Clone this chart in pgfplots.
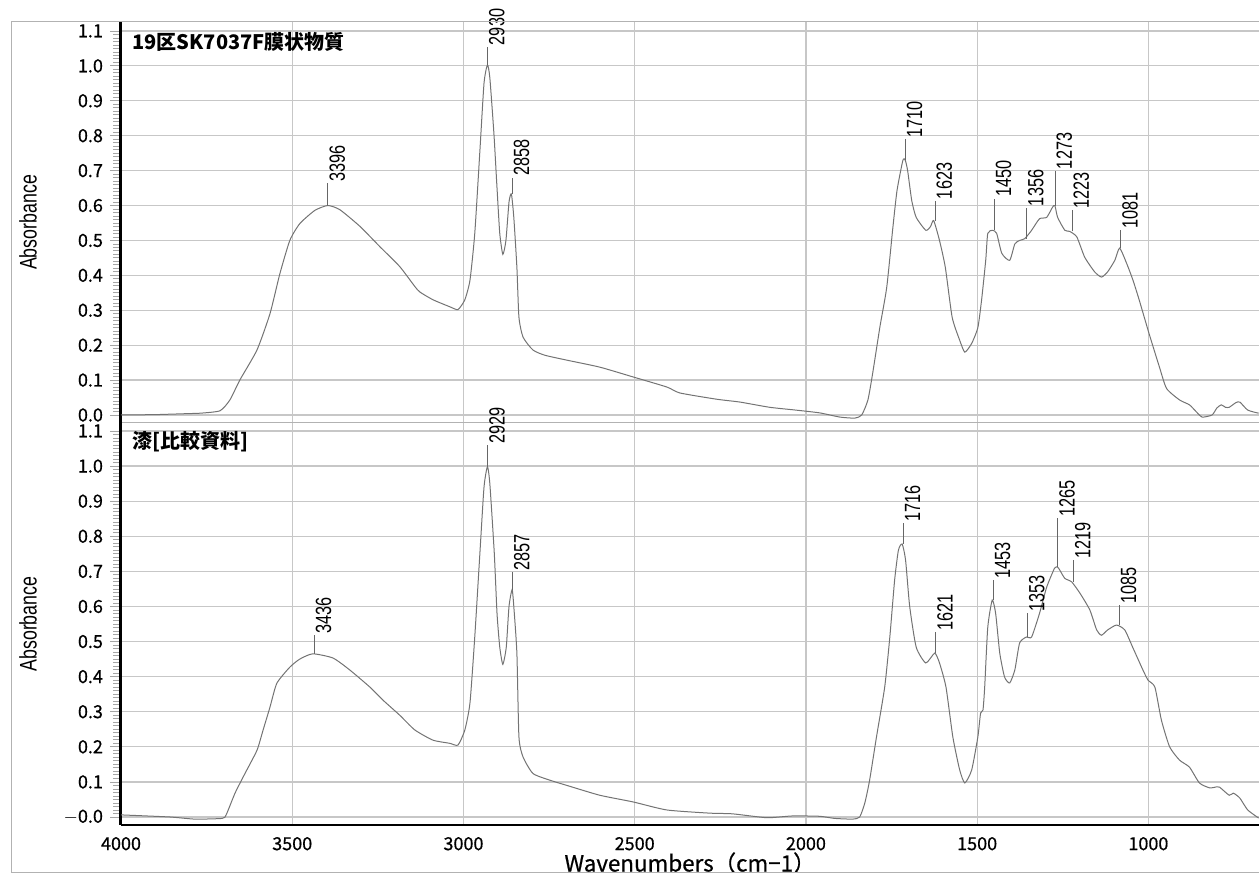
\documentclass[border=0pt]{standalone}
\usepackage{fontspec}
\usepackage{pgfplots}
\usepackage{pgfplotstable}
\pgfplotsset{compat=1.18}
\setmainfont{Liberation Sans}
\newfontfamily\jp{Noto Sans CJK JP}
\newfontfamily\jpt{Noto Sans CJK JP}[FakeBold=0.6]
\newfontfamily\narrow{Liberation Sans}[FakeStretch=0.74]

\pgfplotstableread{
w a
4000 0.000
3900 0.001
3800 0.004
3769 0.005
3711 0.012
3682 0.043
3653 0.100
3603 0.186
3565 0.290
3536 0.405
3507 0.500
3478 0.548
3434 0.586
3396 0.600
3361 0.588
3302 0.540
3244 0.482
3186 0.425
3142 0.368
3127 0.352
3089 0.330
3040 0.310
3016 0.302
2996 0.330
2981 0.386
2967 0.520
2952 0.757
2940 0.950
2930 1.003
2923 0.966
2911 0.805
2902 0.650
2894 0.520
2885 0.460
2876 0.500
2867 0.610
2860 0.633
2853 0.566
2844 0.423
2838 0.280
2826 0.223
2797 0.186
2762 0.171
2698 0.157
2602 0.137
2505 0.109
2406 0.080
2368 0.063
2260 0.045
2193 0.037
2106 0.022
2030 0.014
1960 0.006
1901 -0.006
1857 -0.009
1837 0.000
1819 0.043
1805 0.120
1784 0.252
1764 0.366
1746 0.538
1734 0.643
1717 0.729
1710 0.730
1703 0.700
1691 0.614
1678 0.566
1650 0.529
1636 0.540
1627 0.557
1610 0.500
1593 0.423
1573 0.280
1551 0.214
1536 0.180
1516 0.205
1498 0.250
1487 0.330
1475 0.443
1469 0.520
1455 0.529
1443 0.520
1428 0.463
1405 0.443
1390 0.490
1376 0.500
1361 0.505
1341 0.529
1318 0.562
1297 0.566
1280 0.595
1273 0.600
1265 0.566
1244 0.529
1230 0.526
1209 0.510
1186 0.452
1157 0.410
1137 0.395
1119 0.410
1098 0.443
1084 0.478
1063 0.433
1045 0.386
1027 0.330
998 0.233
968 0.138
947 0.076
909 0.043
880 0.029
861 0.010
843 -0.006
814 0.000
800 0.020
787 0.029
775 0.022
764 0.022
745 0.035
733 0.037
710 0.014
678 0.005
}\topdata

\pgfplotstableread{
w a
4000 0.006
3857 0.000
3784 -0.006
3705 -0.004
3693 0.006
3667 0.068
3638 0.124
3603 0.190
3585 0.248
3565 0.313
3545 0.381
3507 0.427
3478 0.450
3440 0.465
3381 0.453
3332 0.419
3273 0.370
3235 0.333
3186 0.290
3142 0.248
3089 0.219
3040 0.210
3016 0.205
2996 0.248
2981 0.325
2967 0.513
2952 0.752
2940 0.940
2930 0.998
2923 0.950
2910 0.752
2902 0.580
2894 0.484
2885 0.435
2875 0.484
2867 0.600
2858 0.648
2853 0.600
2844 0.467
2838 0.228
2826 0.171
2797 0.124
2748 0.105
2698 0.090
2602 0.062
2505 0.043
2406 0.020
2281 0.011
2214 0.009
2114 -0.002
2039 0.003
1960 0.002
1916 -0.004
1863 -0.006
1843 0.000
1828 0.040
1814 0.105
1794 0.228
1770 0.370
1755 0.513
1741 0.675
1730 0.760
1719 0.778
1709 0.732
1697 0.600
1678 0.484
1650 0.439
1624 0.467
1610 0.439
1591 0.370
1571 0.228
1551 0.134
1536 0.097
1516 0.134
1498 0.228
1490 0.296
1483 0.305
1478 0.370
1469 0.541
1456 0.618
1446 0.580
1434 0.467
1420 0.399
1405 0.382
1390 0.419
1376 0.496
1356 0.513
1341 0.513
1318 0.580
1297 0.655
1274 0.709
1265 0.712
1259 0.704
1244 0.680
1224 0.670
1200 0.638
1171 0.590
1151 0.533
1137 0.518
1119 0.533
1093 0.547
1069 0.533
1046 0.484
1016 0.419
1001 0.390
981 0.370
962 0.276
938 0.200
909 0.162
880 0.142
851 0.097
821 0.083
800 0.086
792 0.085
764 0.062
752 0.068
733 0.054
710 0.020
678 -0.003
}\botdata

\newcommand\pk[4]{\draw[black!60, line width=0.4pt] (axis cs:-#1,#2) -- (axis cs:-#1,#3) node[rotate=90, anchor=north west, inner sep=0.6pt, font=\narrow\fontsize{11}{11}\selectfont, text=black] {#4};}

\pgfplotsset{
  irbase/.style={
    scale only axis, width=569pt,
    xmin=-4000, xmax=-677, clip=false,
    axis x line*=bottom, axis y line*=left, axis line style={-},
    y axis line style={-, line width=1.5pt, black},
    xtick={-4000,-3500,-3000,-2500,-2000,-1500,-1000},
    ytick={0,0.1,0.2,0.3,0.4,0.5,0.6,0.7,0.8,0.9,1.0,1.1},
    minor y tick num=9,
    grid=major, major grid style={black!22, line width=0.6pt},
    tick align=outside, major tick length=5.5pt, minor tick length=4pt,
    ytick style={black!35, line width=0.4pt},
    xtick style={draw=none},
    ticklabel style={font=\jpt\fontsize{9}{9}\selectfont},
    ylabel=Absorbance,
    ylabel style={font=\narrow\fontsize{12}{12}\selectfont, at={(axis description cs:-0.0817,0.5)}, anchor=center},
  },
  spec/.style={black!55, line width=0.5pt, smooth, tension=0.35},
}

\begin{document}
\begin{tikzpicture}
\begin{axis}[irbase, at={(0,201pt)}, anchor=south west, height=200.5pt,
  ymin=-0.023, ymax=1.1257,
  xticklabels={},
  x axis line style={-, black!30, line width=0.5pt},
  yticklabels={0.0,0.1,0.2,0.3,0.4,0.5,0.6,0.7,0.8,0.9,1.0,1.1}]
\addplot[spec] table[x expr=-\thisrow{w}, y=a] {\topdata};
\node[anchor=west, font=\jp\bfseries\fontsize{10}{10}\selectfont] at (axis description cs:0.004,0.95) {19区SK7037F膜状物質};
\pk{3396}{0.600}{0.665}{3396}
\pk{2930}{1.003}{1.055}{2930}
\pk{2858}{0.633}{0.680}{2858}
\pk{1710}{0.730}{0.790}{1710}
\pk{1623}{0.557}{0.614}{1623}
\pk{1450}{0.529}{0.620}{1450}
\pk{1356}{0.505}{0.594}{1356}
\pk{1273}{0.600}{0.700}{1273}
\pk{1223}{0.526}{0.586}{1223}
\pk{1081}{0.478}{0.529}{1081}
\end{axis}
\begin{axis}[irbase, at={(0,0)}, anchor=south west, height=201pt,
  ymin=-0.0228, ymax=1.1228,
  xticklabels={4000,3500,3000,2500,2000,1500,1000},
  xticklabel style={yshift=3pt},
  x axis line style={-, line width=1.4pt, black},
  yticklabels={$-$0.0,0.1,0.2,0.3,0.4,0.5,0.6,0.7,0.8,0.9,1.0,1.1},
  xlabel={Wavenumbers（cm−1）},
  xlabel style={font=\jpt\fontsize{11.2}{11.2}\selectfont, at={(axis description cs:0.5,-0.0945)}, anchor=center}]
\addplot[spec] table[x expr=-\thisrow{w}, y=a] {\botdata};
\node[anchor=west, font=\jp\bfseries\fontsize{10}{10}\selectfont] at (axis description cs:0.004,0.953) {漆[比較資料]};
\pk{3436}{0.465}{0.518}{3436}
\pk{2929}{0.998}{1.060}{2929}
\pk{2857}{0.648}{0.698}{2857}
\pk{1716}{0.778}{0.837}{1716}
\pk{1621}{0.467}{0.527}{1621}
\pk{1453}{0.618}{0.675}{1453}
\pk{1353}{0.513}{0.580}{1353}
\pk{1265}{0.712}{0.852}{1265}
\pk{1219}{0.670}{0.732}{1219}
\pk{1085}{0.547}{0.604}{1085}
\end{axis}
\draw[black!30, line width=0.5pt] (-54.5pt,-23.5pt) rectangle (600pt,401.5pt);
\pgfresetboundingbox
\path[use as bounding box] (-60.5pt,-24pt) rectangle (569pt,412.5pt);
\end{tikzpicture}
\end{document}
